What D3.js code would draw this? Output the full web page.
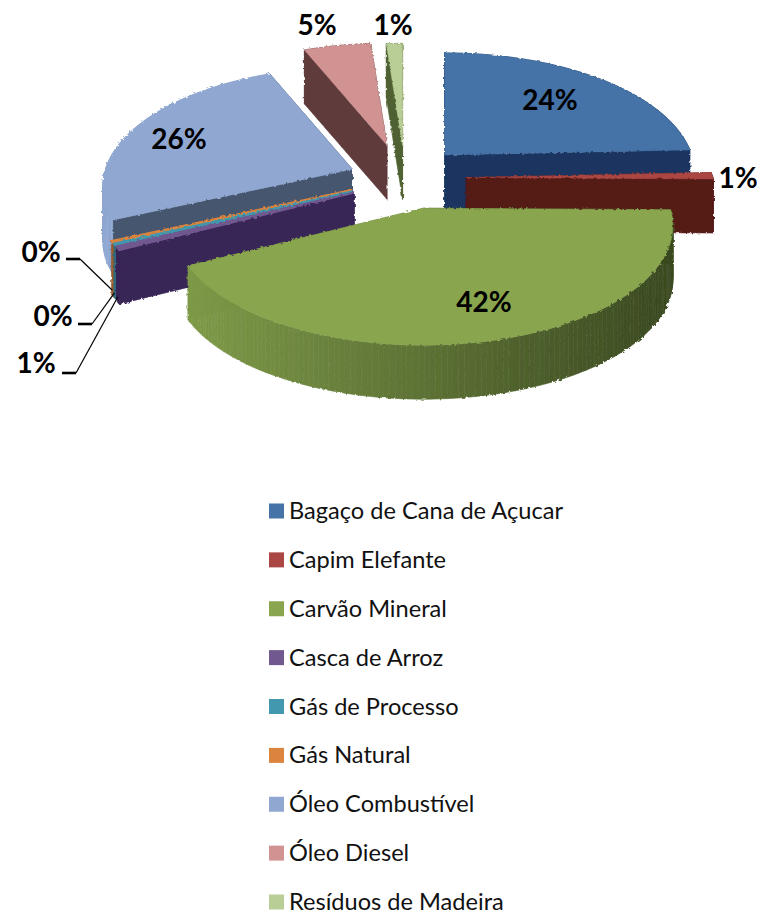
<!doctype html>
<html>
<head>
<meta charset="utf-8">
<style>
    html, body { margin: 0; padding: 0; background: #fff; }
    svg { display: block; }
    text { font-family: Lato, "Open Sans", sans-serif; fill: #000; }
    .pct { font-size: 28px; font-weight: 700; text-anchor: middle; }
    .leg { font-size: 23.6px; fill: #111; }
</style>
<script src="https://d3js.org/d3.v7.min.js"></script>
</head>
<body>
<svg id="chart" width="760" height="914"></svg>
<script>
// data
var categories = ["Bagaço de Cana de Açucar", "Capim Elefante", "Carvão Mineral", "Casca de Arroz",
    "Gás de Processo", "Gás Natural", "Óleo Combustível", "Óleo Diesel", "Resíduos de Madeira"];
var shares = [24.3, 0.9, 42.2, 0.5, 0.2, 0.2, 25.5, 5.0, 1.2];
var labels = ["24%", "1%", "42%", "1%", "0%", "0%", "26%", "5%", "1%"];
var topColors = ["#4572A7", "#AA4643", "#89A54E", "#71588F", "#4198AF", "#DB843D", "#8FA7D1", "#D19392", "#B9CD96"];
var sideColors = ["#1A3560", "#551A17", null, "#392557", "#2F6C7E", "#9A5C2A", "#45566E", "#5E3A3A", "#4F6130"];
var greenSide = ["#7E9A48", "#5C7034", "#3A4921"];

// how far each slice is pulled out, small corrections, and back to front paint order
var explode = [53, 60, 66, 60, 61, 62, 62, 65, 65];
var nudgeX = [0, -2, 0, 0, 0, 0, 2, -6, -3];
var nudgeY = [-5, 0, 0, 2, 1, 0, 2, -3, -2];
var paintOrder = [7, 8, 6, 5, 4, 3, 0, 1, 2];

// label centres, leader labels have a dash after them
var labelX = [550, 738, 484, 36, 53, 41, 179, 317, 393];
var labelY = [100, 178, 302, 363, 316, 252, 139, 25, 25];
var leaderDash = [null, null, null, [62, 76, 373], [78, 92, 324], [66, 80, 259], null, null, null];

var svg = d3.select("#chart");

var cx = 408, cy = 178, rx = 247, ry = 117, persp = 0.146, depth = 54;
var exY = 0.47;

var arcs = d3.pie().sort(null).value(function(d) { return d; })(shares);

// clockwise from 12 o'clock onto the tilted disc
function project(angle, r) {
    var u = Math.sin(angle), v = -Math.cos(angle);
    var s = 1 / (1 - persp * v * r);
    return [rx * r * u * s, ry * r * v * s];
}

function outline(d, i) {
    var mid = (d.startAngle + d.endAngle) / 2;
    var ax = cx + nudgeX[i] + explode[i] * Math.sin(mid);
    var ay = cy + nudgeY[i] - explode[i] * exY * Math.cos(mid);
    var n = Math.max(2, Math.ceil((d.endAngle - d.startAngle) / 0.02));
    var pts = [[ax, ay]];
    d3.range(n + 1).forEach(function(k) {
        var p = project(d.startAngle + (d.endAngle - d.startAngle) * k / n, 1);
        pts.push([ax + p[0], ay + p[1]]);
    });
    return pts;
}

var greenScale = d3.scaleLinear().domain([190, 430, 670]).range(greenSide);
var line = d3.line().curve(d3.curveLinearClosed);

// rough pixel edge like the original
var defs = svg.append("defs");
var jag = defs.append("filter").attr("id", "jag")
    .attr("x", "-5%").attr("y", "-5%").attr("width", "110%").attr("height", "110%");
jag.append("feTurbulence").attr("type", "fractalNoise").attr("baseFrequency", 0.35)
    .attr("numOctaves", 1).attr("seed", 4).attr("result", "n");
jag.append("feDisplacementMap").attr("in", "SourceGraphic").attr("in2", "n")
    .attr("scale", 3.5).attr("result", "d");
jag.append("feGaussianBlur").attr("in", "d").attr("stdDeviation", 0.45);

var pie = svg.append("g").attr("filter", "url(#jag)");

paintOrder.forEach(function(i) {
    var pts = outline(arcs[i], i);
    var g = pie.append("g");

    var quads = pts.map(function(p, k) {
        var q = pts[(k + 1) % pts.length];
        var quad = [p, q, [q[0], q[1] + depth], [p[0], p[1] + depth]];
        quad.rim = k > 0 && k < pts.length - 1;
        return quad;
    }).sort(function(a, b) {
        return (a[0][1] + a[1][1]) - (b[0][1] + b[1][1]);
    });

    g.selectAll("path.side")
        .data(quads)
        .enter().append("path")
        .attr("class", "side")
        .attr("d", line)
        .each(function(q) {
            var c = sideColors[i];
            if (i === 2) c = greenScale((q[0][0] + q[1][0]) / 2);
            // the outer wall of the fuel oil slice stays pale
            if (i === 6 && q.rim) c = topColors[i];
            d3.select(this).attr("fill", c).attr("stroke", c).attr("stroke-width", 0.6);
        });

    g.append("path")
        .attr("d", line(pts))
        .attr("fill", topColors[i])
        .attr("stroke", topColors[i])
        .attr("stroke-width", i >= 3 && i <= 5 ? 2 : 0.5);
});

// leaders for the three tiny slices
var leaderG = svg.append("g");
leaderDash.forEach(function(dash, i) {
    if (!dash) return;
    var pts = outline(arcs[i], i);
    var rim = pts[Math.floor(pts.length / 2)];
    var end = [rim[0], rim[1] + depth * 0.9];
    leaderG.append("path")
        .attr("d", d3.line()([[dash[1], dash[2]], end]))
        .attr("fill", "none").attr("stroke", "#000").attr("stroke-width", 1.2);
    leaderG.append("path")
        .attr("d", d3.line()([[dash[0], dash[2]], [dash[1], dash[2]]]))
        .attr("fill", "none").attr("stroke", "#000").attr("stroke-width", 2.6);
});

svg.append("g").selectAll("text")
    .data(labels)
    .enter().append("text")
    .attr("class", "pct")
    .attr("x", function(d, i) { return labelX[i]; })
    .attr("y", function(d, i) { return labelY[i]; })
    .attr("dy", "0.36em")
    .text(function(d) { return d; });

// legend
var legendY = d3.scalePoint().domain(categories).range([511, 902]);
var legend = svg.append("g").selectAll("g")
    .data(categories)
    .enter().append("g")
    .attr("transform", function(d) { return "translate(269," + legendY(d) + ")"; });

legend.append("rect")
    .attr("y", -7.5)
    .attr("width", 15)
    .attr("height", 15)
    .attr("fill", function(d, i) { return topColors[i]; });

legend.append("text")
    .attr("class", "leg")
    .attr("x", 20)
    .attr("dy", "0.34em")
    .text(function(d) { return d; });
</script>
</body>
</html>
